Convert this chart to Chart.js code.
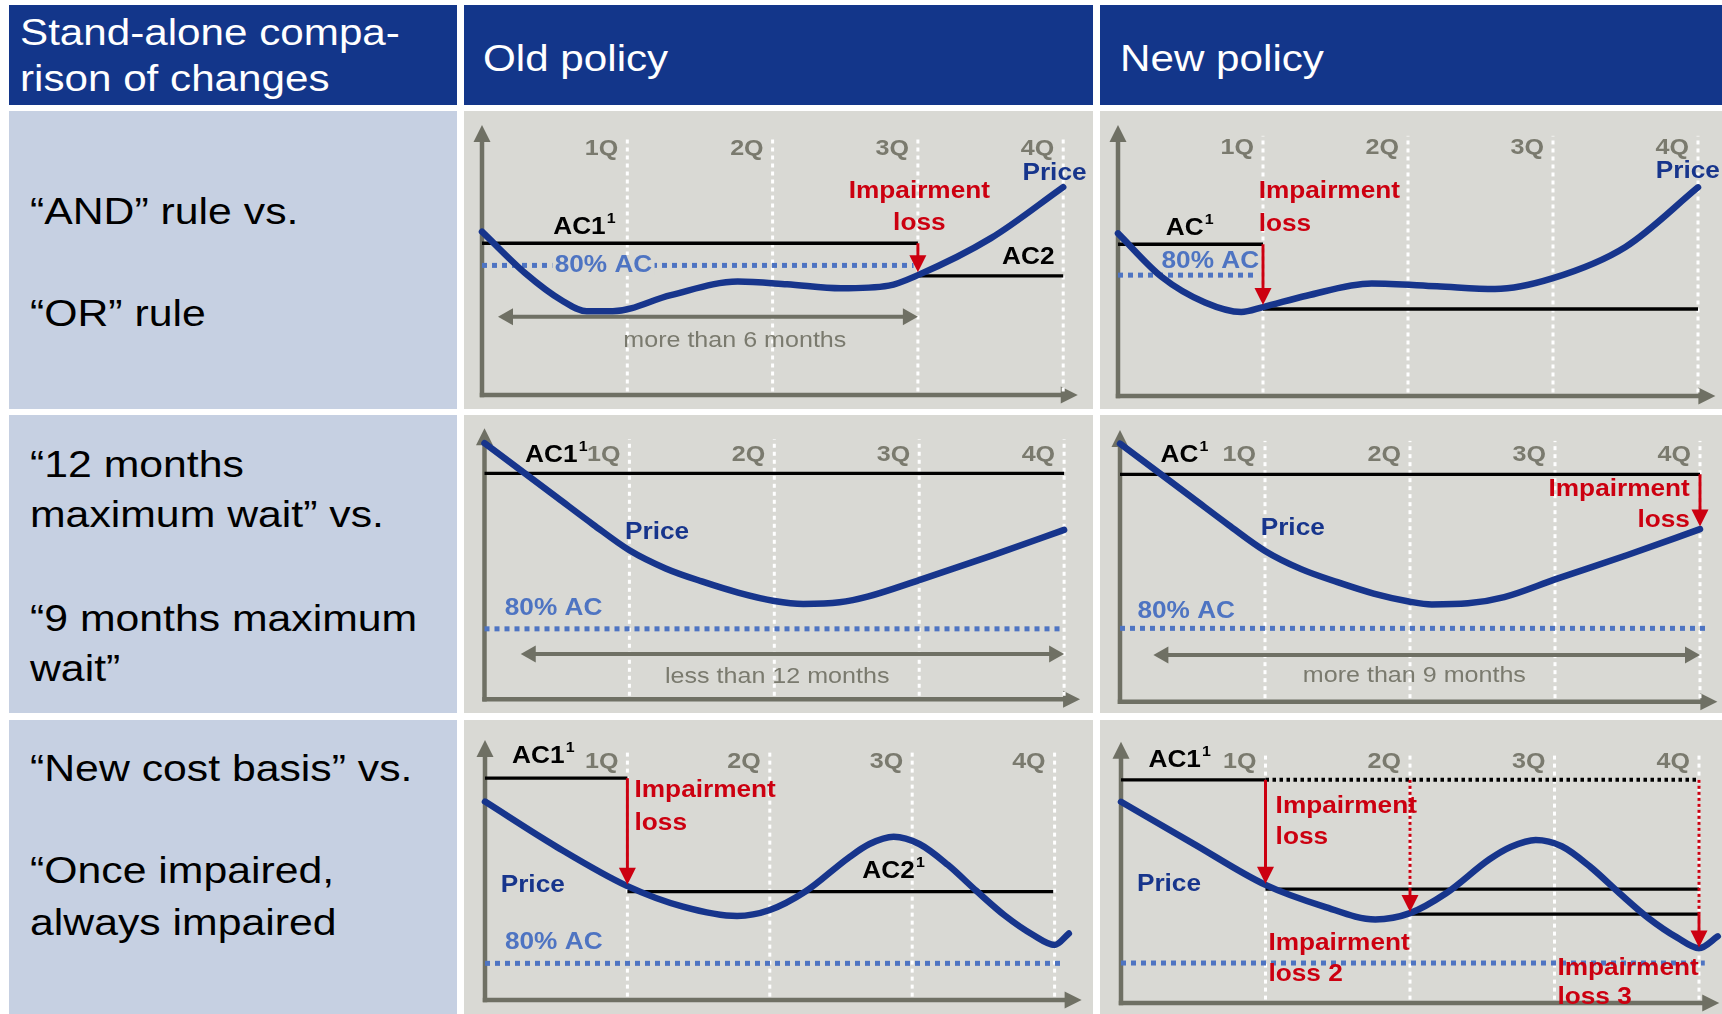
<!DOCTYPE html>
<html>
<head>
<meta charset="utf-8">
<script src="https://cdn.jsdelivr.net/npm/chart.js@4.4.0/dist/chart.umd.min.js"></script>
<style>
  body { margin: 0; background: #fff; }
  #page { position: relative; width: 1722px; height: 1014px; overflow: hidden; font-family: "Liberation Sans", Arial, Helvetica, sans-serif; }
  .cell { position: absolute; }
  .head { background: #13368a; }
  .side { background: #c6d0e2; }
  .panel { background: #d9d9d4; }
  .txt { position: absolute; white-space: nowrap; line-height: 1; transform-origin: 0 0; }
  canvas { display: block; }
</style>
</head>
<body>
<div id="page"></div>
<script>
// quarter ticks along the time axis
const quarterTicks = ['1Q', '2Q', '3Q', '4Q'];
const quarterX = [1, 2, 3, 4];

// "AND" rule vs. "OR" rule -- old policy
const andOldX = [0, 0.3, 0.55, 0.72, 0.9, 1.3, 1.76, 2.1, 2.47, 2.8, 3.0, 3.5, 4.0];
const andOldPrice = [60.5, 45, 35, 31, 31, 37, 42, 41, 39.5, 40.5, 44.4, 58, 77];
const andOldAC1 = [0, 3, 56.2];      // x from, x to, level
const andOldAC2 = [3, 4, 44.1];
const andOld80 = [0, 2.97, 48];
const andOldLoss = [3, 56.2, 45.5];  // x, from, to
const andOldSpan = [0.11, 3, 29];    // x from, x to, level

// "AND" rule vs. "OR" rule -- new policy
const andNewX = [0, 0.3, 0.6, 0.85, 1.0, 1.3, 1.75, 2.2, 2.6, 3.0, 3.5, 4.0];
const andNewPrice = [60, 44, 34.5, 31, 32.8, 37, 41.5, 40.5, 39.5, 43.5, 55, 77];
const andNewAC1 = [0, 1, 56];
const andNewAC2 = [1, 4, 32.1];
const andNew80 = [0, 0.96, 44.6];
const andNewLoss = [1, 56, 33.6];

// 12 months vs. 9 months maximum wait -- old policy
const waitOldX = [0, 0.5, 0.75, 1.0, 1.25, 1.5, 1.75, 2.0, 2.2, 2.45, 2.65, 3.0, 3.5, 4.0];
const waitOldPrice = [94.5, 74.5, 64.5, 55, 48.3, 43.5, 39.4, 36.3, 35.2, 35.8, 38, 44, 53, 62.5];
const waitOldAC1 = [0, 4, 83.4];
const waitOld80 = [0, 4, 26];
const waitOldSpan = [0.25, 4, 16.7];

// 12 months vs. 9 months maximum wait -- new policy
const waitNewX = [0, 0.5, 0.75, 1.0, 1.25, 1.5, 1.75, 2.0, 2.15, 2.4, 2.65, 3.0, 3.5, 4.0];
const waitNewPrice = [95, 75, 65, 55.5, 48.8, 44, 39.8, 36.8, 35.8, 36.2, 38.5, 45, 54, 63.5];
const waitNewAC1 = [0, 4, 83.7];
const waitNew80 = [0, 4.04, 27];
const waitNewLoss = [4, 83.7, 64.5];
const waitNewSpan = [0.23, 4, 17.2];

// new cost basis vs. once impaired, always impaired -- old policy
const basisOldX = [0, 0.5, 1.0, 1.39, 1.77, 2.0, 2.25, 2.55, 2.7, 2.87, 3.05, 3.25, 3.45, 3.65, 3.85, 4.0, 4.1];
const basisOldPrice = [76.3, 59, 43.8, 35.9, 32.3, 34.6, 41.7, 54.6, 60, 62.8, 60, 52, 42, 32.5, 25, 21.2, 25.6];
const basisOldAC1 = [0, 1, 85.3];
const basisOldAC2 = [1, 3.99, 41.7];
const basisOld80 = [0, 4.05, 14.1];
const basisOldLoss = [1, 85.3, 44.3];

// new cost basis vs. once impaired, always impaired -- new policy
const basisNewX = [0, 0.5, 1.0, 1.4, 1.76, 2.0, 2.25, 2.55, 2.7, 2.87, 3.05, 3.25, 3.45, 3.65, 3.85, 4.0, 4.13];
const basisNewPrice = [77, 61, 45.2, 37, 32, 34.4, 42, 55, 59.8, 62.4, 60, 52, 42, 32.5, 25, 21, 25.5];
const basisNewAC1 = [0, 1, 85.4];
const basisNewAC1Kept = [1, 4, 85.4];
const basisNewLevel2 = [1, 4, 43.6];
const basisNewLevel3 = [2, 4, 34];
const basisNew80 = [0, 4.04, 15.3];
const basisNewLoss1 = [1, 85.4, 45.6];
const basisNewLoss2 = [2, 43.6, 34.8];
const basisNewLoss3 = [4, 34, 21.2];
const basisNewGuide2 = [2, 85.4, 43.6];
const basisNewGuide3 = [4, 85.4, 34];

const fontFamily = '"Liberation Sans", Arial, Helvetica, sans-serif';
const stretch = 1.14;

const panelBg = '#d9d9d4';
const axisGrey = '#6f7064';
const tickGrey = '#7a7a6e';
const priceBlue = '#17358c';
const floorBlue = '#4e74c2';
const lossRed = '#cc0010';

const labelStyles = {
  ac:    { color: '#000', weight: 'bold', size: 23 },
  red:   { color: lossRed, weight: 'bold', size: 23 },
  price: { color: priceBlue, weight: 'bold', size: 23 },
  floor: { color: floorBlue, weight: 'bold', size: 23 },
  note:  { color: tickGrey, weight: 'normal', size: 22 },
  tick:  { color: tickGrey, weight: 'bold', size: 22 }
};

const panels = [
  {
    cell: [464, 111, 629, 298], pad: [18, 14, 14], unit: 145.3, xMax: 4.1, tickY: 91.2,
    x: andOldX, price: andOldPrice, solid: [andOldAC1, andOldAC2], dotted: [], floor: andOld80,
    guides: [], losses: [andOldLoss], spans: [andOldSpan],
    labels: [
      { t: 'AC1', sup: '1', x: 0.49, y: 62, s: 'ac', a: 'left' },
      { t: '80% AC', x: 0.5, y: 48, s: 'floor', a: 'left', bg: true },
      { t: 'Impairment', x: 3.01, y: 75.3, s: 'red', a: 'center' },
      { t: 'loss', x: 3.01, y: 63.6, s: 'red', a: 'center' },
      { t: 'AC2', x: 3.94, y: 50.7, s: 'ac', a: 'right' },
      { t: 'Price', x: 3.94, y: 82.1, s: 'price', a: 'center' },
      { t: 'more than 6 months', x: 1.74, y: 20.2, s: 'note', a: 'center' }
    ]
  },
  {
    cell: [1100, 111, 622, 298], pad: [18, 14, 13], unit: 145, xMax: 4.12, tickY: 91.4,
    x: andNewX, price: andNewPrice, solid: [andNewAC1, andNewAC2], dotted: [], floor: andNew80,
    guides: [], losses: [andNewLoss], spans: [],
    labels: [
      { t: 'AC', sup: '1', x: 0.33, y: 61.9, s: 'ac', a: 'left' },
      { t: '80% AC', x: 0.3, y: 49.4, s: 'floor', a: 'left' },
      { t: 'Impairment', x: 0.97, y: 75.3, s: 'red', a: 'left' },
      { t: 'loss', x: 0.97, y: 63.4, s: 'red', a: 'left' },
      { t: 'Price', x: 3.93, y: 82.9, s: 'price', a: 'center' }
    ]
  },
  {
    cell: [464, 415, 629, 298], pad: [20.5, 13.3, 13.7], unit: 144.9, xMax: 4.11, tickY: 90.2,
    x: waitOldX, price: waitOldPrice, solid: [waitOldAC1], dotted: [], floor: waitOld80,
    guides: [], losses: [], spans: [waitOldSpan],
    labels: [
      { t: 'AC1', sup: '1', x: 0.28, y: 90, s: 'ac', a: 'left' },
      { t: 'Price', x: 0.97, y: 61.4, s: 'price', a: 'left' },
      { t: '80% AC', x: 0.14, y: 33.5, s: 'floor', a: 'left' },
      { t: 'less than 12 months', x: 2.02, y: 8.4, s: 'note', a: 'center' }
    ]
  },
  {
    cell: [1100, 415, 622, 298], pad: [20, 15, 11.3], unit: 145, xMax: 4.12, tickY: 90.8,
    x: waitNewX, price: waitNewPrice, solid: [waitNewAC1], dotted: [], floor: waitNew80,
    guides: [], losses: [waitNewLoss], spans: [waitNewSpan],
    labels: [
      { t: 'AC', sup: '1', x: 0.28, y: 90.7, s: 'ac', a: 'left' },
      { t: 'Impairment', x: 3.93, y: 78, s: 'red', a: 'right' },
      { t: 'loss', x: 3.93, y: 66.7, s: 'red', a: 'right' },
      { t: 'Price', x: 0.97, y: 63.7, s: 'price', a: 'left' },
      { t: '80% AC', x: 0.12, y: 33.2, s: 'floor', a: 'left' },
      { t: 'more than 9 months', x: 2.03, y: 9.3, s: 'note', a: 'center' }
    ]
  },
  {
    cell: [464, 720, 629, 294], pad: [21, 20, 14], unit: 142.4, xMax: 4.19, tickY: 91.7,
    x: basisOldX, price: basisOldPrice, solid: [basisOldAC1, basisOldAC2], dotted: [], floor: basisOld80,
    guides: [], losses: [basisOldLoss], spans: [],
    labels: [
      { t: 'AC1', sup: '1', x: 0.19, y: 93.5, s: 'ac', a: 'left' },
      { t: 'Impairment', x: 1.05, y: 80.4, s: 'red', a: 'left' },
      { t: 'loss', x: 1.05, y: 67.9, s: 'red', a: 'left' },
      { t: 'AC2', sup: '1', x: 2.65, y: 49.5, s: 'ac', a: 'left' },
      { t: 'Price', x: 0.11, y: 44.1, s: 'price', a: 'left' },
      { t: '80% AC', x: 0.14, y: 21.9, s: 'floor', a: 'left' }
    ]
  },
  {
    cell: [1100, 720, 622, 294], pad: [21, 21.7, 11], unit: 144.5, xMax: 4.14, tickY: 92.4,
    x: basisNewX, price: basisNewPrice, solid: [basisNewAC1, basisNewLevel2, basisNewLevel3],
    dotted: [basisNewAC1Kept], floor: basisNew80,
    guides: [basisNewGuide2, basisNewGuide3], losses: [basisNewLoss1, basisNewLoss2, basisNewLoss3], spans: [],
    labels: [
      { t: 'AC1', sup: '1', x: 0.19, y: 92.9, s: 'ac', a: 'left' },
      { t: 'Impairment', x: 1.07, y: 75.3, s: 'red', a: 'left' },
      { t: 'loss', x: 1.07, y: 63.2, s: 'red', a: 'left' },
      { t: 'Price', x: 0.11, y: 45.4, s: 'price', a: 'left' },
      { t: 'Impairment', x: 1.02, y: 22.8, s: 'red', a: 'left' },
      { t: 'loss 2', x: 1.02, y: 10.8, s: 'red', a: 'left' },
      { t: 'Impairment', x: 3.02, y: 13.2, s: 'red', a: 'left' },
      { t: 'loss 3', x: 3.02, y: 1.9, s: 'red', a: 'left' }
    ]
  }
];

const page = document.getElementById('page');

function box(cls, x, y, w, h) {
  const d = document.createElement('div');
  d.className = 'cell ' + cls;
  Object.assign(d.style, { left: x + 'px', top: y + 'px', width: w + 'px', height: h + 'px' });
  page.appendChild(d);
  return d;
}

// text placed by its baseline, widened like the rest of the slide
function text(str, x, baseline, size, color) {
  const d = document.createElement('div');
  d.className = 'txt';
  d.textContent = str;
  Object.assign(d.style, {
    left: x + 'px', top: (baseline - size * 0.8465) + 'px',
    fontSize: size + 'px', color: color, transform: 'scaleX(' + stretch + ')'
  });
  page.appendChild(d);
}

// header row
box('head', 9, 5, 448, 100);
box('head', 464, 5, 629, 100);
box('head', 1100, 5, 622, 100);
text('Stand-alone compa-', 20, 45, 37, '#fff');
text('rison of changes', 20, 91.7, 37, '#fff');
text('Old policy', 483, 71, 37, '#fff');
text('New policy', 1120, 71, 37, '#fff');

// row titles
box('side', 9, 111, 448, 298);
box('side', 9, 415, 448, 298);
box('side', 9, 720, 448, 294);
const sideLines = [
  ['\u201cAND\u201d rule vs.', 225], ['\u201cOR\u201d rule', 327],
  ['\u201c12 months', 477.6], ['maximum wait\u201d vs.', 528], ['\u201c9 months maximum', 631.5], ['wait\u201d', 681.6],
  ['\u201cNew cost basis\u201d vs.', 781.8], ['\u201cOnce impaired,', 883.8], ['always impaired', 936.2]
];
sideLines.forEach(([s, b]) => text(s, 30, b, 37.5, '#000'));

function head(ctx, tx, ty, dx, dy, len, half) {
  const bx = tx - dx * len, by = ty - dy * len;
  ctx.beginPath();
  ctx.moveTo(tx, ty);
  ctx.lineTo(bx - dy * half, by + dx * half);
  ctx.lineTo(bx + dy * half, by - dx * half);
  ctx.closePath();
  ctx.fill();
}

function drawLabel(ctx, chart, lb) {
  const st = labelStyles[lb.s];
  const px = chart.scales.x.getPixelForValue(lb.x);
  const py = chart.scales.y.getPixelForValue(lb.y);
  const mainFont = `${st.weight} ${st.size}px ${fontFamily}`;
  const supFont = `${st.weight} ${Math.round(st.size * 0.62)}px ${fontFamily}`;
  ctx.save();
  ctx.translate(px, py);
  ctx.scale(stretch, 1);
  ctx.font = mainFont;
  const w = ctx.measureText(lb.t).width;
  let sw = 0;
  if (lb.sup) {
    ctx.font = supFont;
    sw = ctx.measureText(lb.sup).width + 1;
  }
  const total = w + sw;
  const x0 = lb.a === 'right' ? -total : lb.a === 'center' ? -total / 2 : 0;
  ctx.textBaseline = 'middle';
  ctx.textAlign = 'left';
  if (lb.bg) {
    ctx.fillStyle = panelBg;
    ctx.fillRect(x0 - 2, -st.size * 0.45, total + 4, st.size * 0.9);
  }
  ctx.fillStyle = st.color;
  ctx.font = mainFont;
  ctx.fillText(lb.t, x0, 0);
  if (lb.sup) {
    ctx.font = supFont;
    ctx.fillText(lb.sup, x0 + w + 1, -st.size * 0.36);
  }
  ctx.restore();
}

const panelPlugin = {
  id: 'panelDecor',
  beforeDatasetsDraw(chart) {
    const { ctx, chartArea: a } = chart;
    const cfg = chart.config.options.plugins.panelDecor;
    ctx.save();
    // axes with arrow heads
    ctx.strokeStyle = axisGrey;
    ctx.fillStyle = axisGrey;
    ctx.lineWidth = 4.5;
    ctx.beginPath();
    ctx.moveTo(a.left, a.bottom + 2.2);
    ctx.lineTo(a.left, a.top + 14);
    ctx.stroke();
    head(ctx, a.left, a.top, 0, -1, 17, 8.5);
    ctx.beginPath();
    ctx.moveTo(a.left - 2.2, a.bottom);
    ctx.lineTo(a.right - 14, a.bottom);
    ctx.stroke();
    head(ctx, a.right, a.bottom, 1, 0, 17, 8.5);
    ctx.restore();
    // quarter labels
    const st = labelStyles.tick;
    quarterTicks.forEach((q, i) => {
      ctx.save();
      ctx.translate(chart.scales.x.getPixelForValue(quarterX[i]) - 9, chart.scales.y.getPixelForValue(cfg.tickY));
      ctx.scale(stretch, 1);
      ctx.font = `${st.weight} ${st.size}px ${fontFamily}`;
      ctx.fillStyle = st.color;
      ctx.textAlign = 'right';
      ctx.textBaseline = 'middle';
      ctx.fillText(q, 0, 0);
      ctx.restore();
    });
  },
  afterDatasetsDraw(chart) {
    const { ctx } = chart;
    const cfg = chart.config.options.plugins.panelDecor;
    const xs = chart.scales.x, ys = chart.scales.y;
    ctx.save();
    // period spans: grey double-headed arrows
    ctx.strokeStyle = axisGrey;
    ctx.fillStyle = axisGrey;
    ctx.lineWidth = 4;
    cfg.spans.forEach(([x0, x1, y]) => {
      const p0 = xs.getPixelForValue(x0), p1 = xs.getPixelForValue(x1), py = ys.getPixelForValue(y);
      ctx.beginPath();
      ctx.moveTo(p0 + 12, py);
      ctx.lineTo(p1 - 12, py);
      ctx.stroke();
      head(ctx, p0, py, -1, 0, 15, 8.5);
      head(ctx, p1, py, 1, 0, 15, 8.5);
    });
    // impairment losses: red arrows
    ctx.strokeStyle = lossRed;
    ctx.fillStyle = lossRed;
    ctx.lineWidth = 3;
    cfg.losses.forEach(([x, from, to]) => {
      const px = xs.getPixelForValue(x), p0 = ys.getPixelForValue(from), p1 = ys.getPixelForValue(to);
      ctx.beginPath();
      ctx.moveTo(px, p0);
      ctx.lineTo(px, p1 - 14);
      ctx.stroke();
      head(ctx, px, p1, 0, 1, 17, 8.5);
    });
    ctx.restore();
    cfg.labels.forEach(lb => drawLabel(ctx, chart, lb));
  }
};

function hSeg(seg, color, width, dash, order) {
  return {
    data: [{ x: seg[0], y: seg[2] }, { x: seg[1], y: seg[2] }],
    borderColor: color, borderWidth: width, borderDash: dash, order: order,
    tension: 0, pointRadius: 0, fill: false, clip: false
  };
}

function vSeg(seg, color, width, dash, order) {
  return {
    data: [{ x: seg[0], y: seg[1] }, { x: seg[0], y: seg[2] }],
    borderColor: color, borderWidth: width, borderDash: dash, order: order,
    tension: 0, pointRadius: 0, fill: false, clip: false
  };
}

panels.forEach(p => {
  const [cx, cy, cw, ch] = p.cell;
  const holder = box('panel', cx, cy, cw, ch);
  const canvas = document.createElement('canvas');
  canvas.width = cw;
  canvas.height = ch;
  canvas.style.width = cw + 'px';
  canvas.style.height = ch + 'px';
  holder.appendChild(canvas);

  const [padL, padT, padB] = p.pad;
  const padR = cw - padL - p.unit * p.xMax;

  const datasets = [];
  quarterX.forEach(q => datasets.push(vSeg([q, 1.3, 96], '#ffffff', 3, [4, 4], 10)));
  datasets.push(hSeg(p.floor, floorBlue, 5, [5, 5], 8));
  p.dotted.forEach(s => datasets.push(hSeg(s, '#000', 4, [3.5, 3.5], 7)));
  p.solid.forEach(s => datasets.push(hSeg(s, '#000', 3.3, [], 6)));
  p.guides.forEach(s => datasets.push(vSeg(s, lossRed, 3, [3, 3], 5)));
  datasets.push({
    data: p.x.map((x, i) => ({ x: x, y: p.price[i] })),
    borderColor: priceBlue, borderWidth: 6.5, cubicInterpolationMode: 'monotone',
    pointRadius: 0, fill: false, order: 1, clip: false, borderCapStyle: 'round'
  });

  new Chart(canvas.getContext('2d'), {
    type: 'line',
    data: { datasets: datasets },
    options: {
      responsive: false,
      animation: false,
      devicePixelRatio: 1,
      events: [],
      layout: { padding: { left: padL, right: padR, top: padT, bottom: padB } },
      scales: {
        x: { type: 'linear', min: 0, max: p.xMax, display: false },
        y: { type: 'linear', min: 0, max: 100, display: false }
      },
      plugins: {
        legend: { display: false },
        tooltip: { enabled: false },
        panelDecor: { tickY: p.tickY, spans: p.spans, losses: p.losses, labels: p.labels }
      }
    },
    plugins: [panelPlugin]
  });
});
</script>
</body>
</html>
